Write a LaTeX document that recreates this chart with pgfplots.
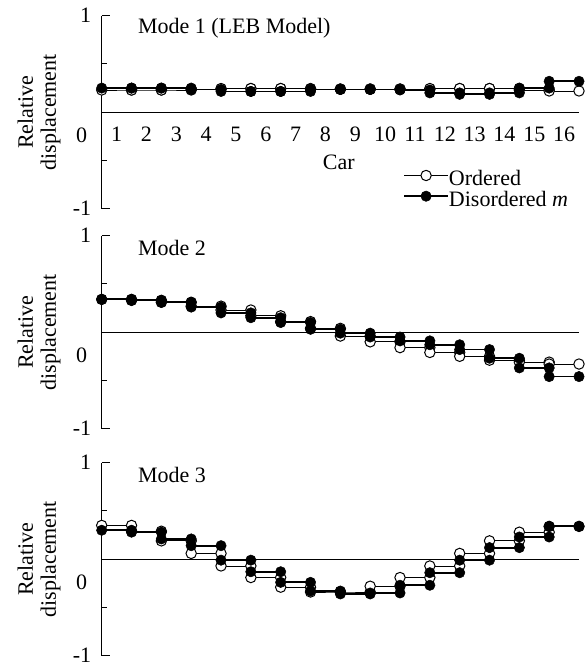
\documentclass[border=0pt]{standalone}
\usepackage{pgfplots}
\pgfplotsset{compat=1.18}
\usepackage{fontspec}
\setmainfont{Liberation Serif}
\newcommand\f{\fontsize{22}{23}\selectfont}
\pgfplotsset{
  panel/.style={
    scale only axis, width=477.3pt, height=193pt, anchor=south west,
    xmin=0, xmax=16, ymin=-1, ymax=1, clip=false,
    axis y line=left, axis x line=middle,
    axis line style={-, line width=1pt, black},
    tick align=inside, tick style={black, line width=1pt},
    ytick={-0.5,0.5}, yticklabels={,}, major tick length=5pt,
    extra y ticks={-1,1}, extra y tick labels={-1,1},
    extra y tick style={major tick length=8pt},
    yticklabel style={font=\f, xshift=-7pt},
    xticklabel style={font=\f},
    font=\f,
    xtick=\empty,
    every axis y label/.style={at={(axis description cs:-0.079,0.5)}, rotate=90, anchor=south, align=center, font=\f},
    ylabel={Relative\\displacement},
    /pgf/number format/assume math mode=true,
  },
  ord/.style={black, line width=0.9pt, mark=*, mark size=5.2pt, mark options={fill=white, draw=black, line width=1pt, solid}},
  dis/.style={black, line width=1.8pt, mark=*, mark size=5.2pt, mark options={fill=black, draw=black, line width=0.5pt, solid}},
}
\begin{document}
\begin{tikzpicture}
\useasboundingbox (0,0) rectangle (586pt,669pt);
% Mode 1
\begin{axis}[panel, at={(101.7pt,460.3pt)},
  xtick={0.5,1.5,2.5,3.5,4.5,5.5,6.5,7.5,8.5,9.5,10.5,11.5,12.5,13.5,14.5,15.5},
  xticklabels={1,2,3,4,5,6,7,8,9,10,11,12,13,14,15,16},
  xtick style={draw=none}, xticklabel style={yshift=-11pt},
  legend style={at={(axis cs:10.1,-0.6)}, anchor=north west, draw=none, fill=none, font=\f, row sep=1.5pt, inner sep=0pt, nodes={inner sep=0pt, text height=14pt, text depth=4pt},
    /tikz/every even column/.append style={column sep=4pt}},
  legend cell align=left,
  legend image code/.code={\draw[mark repeat=2,mark phase=2,#1] plot coordinates {(0pt,5pt) (22pt,5pt) (44pt,5pt)};},
]
\addplot[ord] coordinates {(0,0.23)(1,0.23)(1,0.23)(2,0.23)(2,0.23)(3,0.23)(3,0.24)(4,0.24)(4,0.245)(5,0.245)(5,0.245)(6,0.245)(6,0.245)(7,0.245)(7,0.24)(8,0.24)(8,0.24)(9,0.24)(9,0.24)(10,0.24)(10,0.24)(11,0.24)(11,0.245)(12,0.245)(12,0.245)(13,0.245)(13,0.245)(14,0.245)(14,0.23)(15,0.23)(15,0.22)(16,0.22)};
\addlegendentry{Ordered}
\addplot[dis] coordinates {(0,0.25)(1,0.25)(1,0.25)(2,0.25)(2,0.25)(3,0.25)(3,0.235)(4,0.235)(4,0.215)(5,0.215)(5,0.215)(6,0.215)(6,0.215)(7,0.215)(7,0.235)(8,0.235)(8,0.235)(9,0.235)(9,0.235)(10,0.235)(10,0.23)(11,0.23)(11,0.20)(12,0.20)(12,0.185)(13,0.185)(13,0.20)(14,0.20)(14,0.25)(15,0.25)(15,0.32)(16,0.32)};
\addlegendentry{Disordered \textit{m}}
\node[anchor=west] at (axis cs:1.1,0.875) {Mode 1 (LEB Model)};
\node[anchor=east, xshift=-11pt] at (axis cs:0,-0.24) {0};
\node at (axis cs:7.95,-0.52) {Car};
\end{axis}
% Mode 2
\begin{axis}[panel, at={(101.7pt,240.3pt)}]
\addplot[ord] coordinates {(0,0.34)(1,0.34)(1,0.33)(2,0.33)(2,0.31)(3,0.31)(3,0.27)(4,0.27)(4,0.23)(5,0.23)(5,0.17)(6,0.17)(6,0.11)(7,0.11)(7,0.04)(8,0.04)(8,-0.04)(9,-0.04)(9,-0.10)(10,-0.10)(10,-0.16)(11,-0.16)(11,-0.21)(12,-0.21)(12,-0.25)(13,-0.25)(13,-0.29)(14,-0.29)(14,-0.31)(15,-0.31)(15,-0.33)(16,-0.33)};
\addplot[dis] coordinates {(0,0.34)(1,0.34)(1,0.33)(2,0.33)(2,0.31)(3,0.31)(3,0.26)(4,0.26)(4,0.20)(5,0.20)(5,0.15)(6,0.15)(6,0.10)(7,0.10)(7,0.03)(8,0.03)(8,-0.01)(9,-0.01)(9,-0.05)(10,-0.05)(10,-0.09)(11,-0.09)(11,-0.13)(12,-0.13)(12,-0.18)(13,-0.18)(13,-0.27)(14,-0.27)(14,-0.37)(15,-0.37)(15,-0.46)(16,-0.46)};
\node[anchor=west] at (axis cs:1.1,0.875) {Mode 2};
\node[anchor=east, xshift=-11pt] at (axis cs:0,-0.24) {0};
\end{axis}
% Mode 3
\begin{axis}[panel, at={(101.7pt,13.3pt)}]
\addplot[ord] coordinates {(0,0.35)(1,0.35)(1,0.29)(2,0.29)(2,0.19)(3,0.19)(3,0.06)(4,0.06)(4,-0.07)(5,-0.07)(5,-0.19)(6,-0.19)(6,-0.29)(7,-0.29)(7,-0.34)(8,-0.34)(8,-0.34)(9,-0.34)(9,-0.28)(10,-0.28)(10,-0.19)(11,-0.19)(11,-0.07)(12,-0.07)(12,0.06)(13,0.06)(13,0.19)(14,0.19)(14,0.28)(15,0.28)(15,0.34)(16,0.34)};
\addplot[dis] coordinates {(0,0.30)(1,0.30)(1,0.28)(2,0.28)(2,0.21)(3,0.21)(3,0.14)(4,0.14)(4,-0.01)(5,-0.01)(5,-0.13)(6,-0.13)(6,-0.24)(7,-0.24)(7,-0.33)(8,-0.33)(8,-0.36)(9,-0.36)(9,-0.35)(10,-0.35)(10,-0.27)(11,-0.27)(11,-0.14)(12,-0.14)(12,-0.01)(13,-0.01)(13,0.12)(14,0.12)(14,0.23)(15,0.23)(15,0.34)(16,0.34)};
\node[anchor=west] at (axis cs:1.1,0.875) {Mode 3};
\node[anchor=east, xshift=-11pt] at (axis cs:0,-0.24) {0};
\end{axis}
\end{tikzpicture}
\end{document}
